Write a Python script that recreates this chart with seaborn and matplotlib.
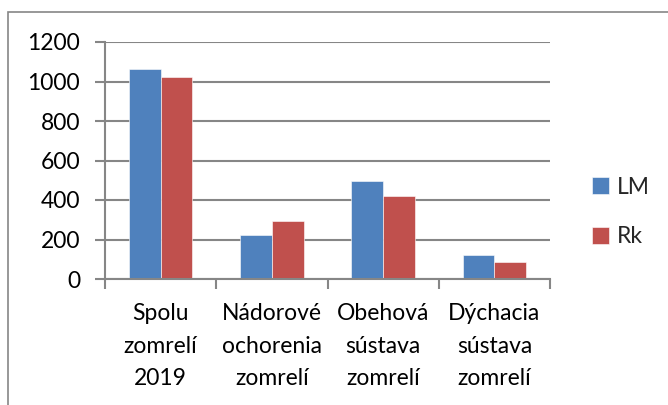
import pandas as pd
import seaborn as sns
import matplotlib.pyplot as plt
from matplotlib.patches import Rectangle

# data
categories = ["Spolu\nzomrelí\n2019", "Nádorové\nochorenia\nzomrelí",
              "Obehová\nsústava\nzomrelí", "Dýchacia\nsústava\nzomrelí"]
lm_values = [1065, 223, 498, 123]
rk_values = [1023, 295, 419, 88]
series = ["LM", "Rk"]
colors = ["#4F81BD", "#C0504D"]
y_ticks = [0, 200, 400, 600, 800, 1000, 1200]

df = pd.DataFrame({
    "category": categories * 2,
    "value": lm_values + rk_values,
    "series": [series[0]] * 4 + [series[1]] * 4,
})

sns.set_theme(style="white")
plt.rcParams['font.family'] = ['Lato', 'DejaVu Sans']

fig = plt.figure(figsize=(6.68, 4.05), dpi=100)
ax = fig.add_axes([105 / 668, 1 - 279 / 405, 445 / 668, 237 / 405])

sns.barplot(data=df, x="category", y="value", hue="series", palette=colors,
            width=0.57, saturation=1, edgecolor="white", linewidth=0.4, ax=ax)

grid_c = "#868686"
fs = 16.5
ax.set_ylim(0, 1200)
ax.set_xlim(-0.5, 3.5)
ax.set_yticks(y_ticks)
ax.set_yticklabels([str(t) for t in y_ticks], fontsize=fs, color="black")
ax.yaxis.grid(True, color=grid_c, linewidth=1.5)
ax.set_axisbelow(True)
ax.set_xlabel("")
ax.set_ylabel("")

ax.set_xticks(range(4))
ax.set_xticklabels(categories, fontsize=fs, color="black", linespacing=1.7)
ax.set_xticks([-0.5, 0.5, 1.5, 2.5, 3.5], minor=True)
ax.tick_params(axis="x", which="major", length=0, pad=17)
ax.tick_params(axis="x", which="minor", length=7, width=1.5, color=grid_c, direction="out", bottom=True)
ax.tick_params(axis="y", length=7, width=1.5, color=grid_c, direction="out", left=True, pad=11)

for s in ["top", "right"]:
    ax.spines[s].set_visible(False)
for s in ["left", "bottom"]:
    ax.spines[s].set_color(grid_c)
    ax.spines[s].set_linewidth(1.5)

ax.legend(loc="center left", bbox_to_anchor=(592 / 668, 1 - 212 / 405),
          bbox_transform=fig.transFigure, frameon=False, fontsize=fs,
          handlelength=0.75, handleheight=0.75, handletextpad=0.35,
          labelspacing=1.25, borderaxespad=0, borderpad=0, title=None)

# chart border (cut at right/bottom in the reference)
fig.patches.append(Rectangle((8 / 668, -0.1), 1.2, 1 - 12 / 405 + 0.1,
                             transform=fig.transFigure, fill=False,
                             edgecolor=grid_c, linewidth=1.2))

fig.savefig("out.png", dpi=100)
plt.close(fig)
